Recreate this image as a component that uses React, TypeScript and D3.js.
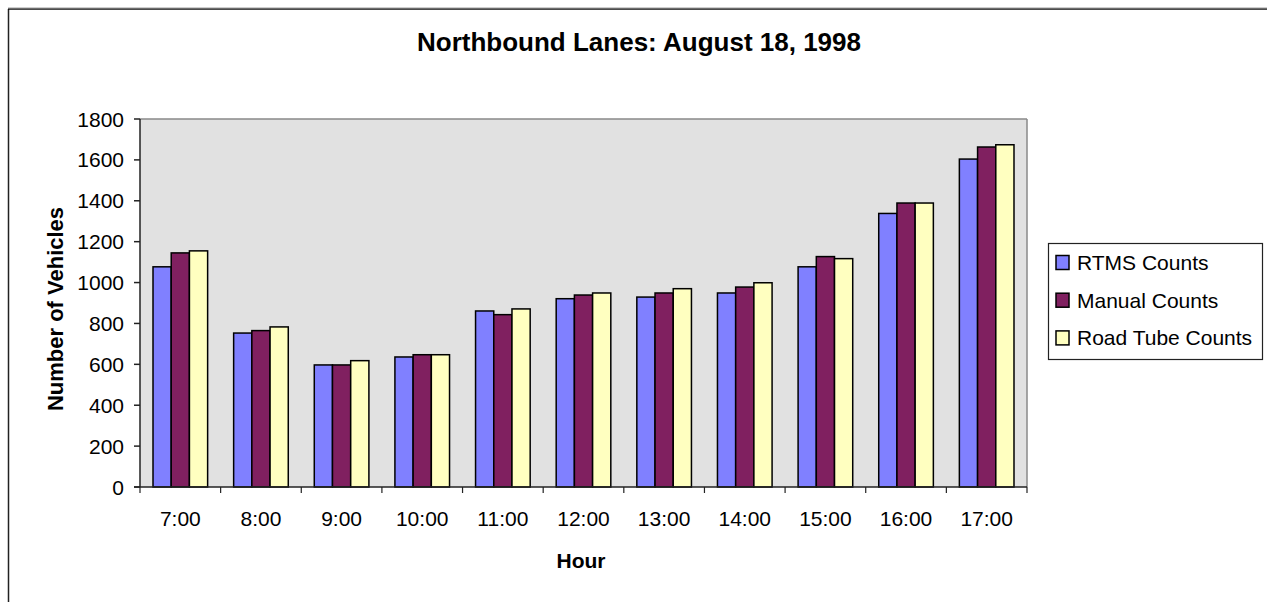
import React from "react";
import * as d3 from "d3";

const hours = ["7:00", "8:00", "9:00", "10:00", "11:00", "12:00", "13:00", "14:00", "15:00", "16:00", "17:00"];
const seriesNames = ["RTMS Counts", "Manual Counts", "Road Tube Counts"];
const rtmsCounts = [1077, 753, 597, 636, 861, 921, 929, 949, 1077, 1338, 1604];
const manualCounts = [1145, 765, 597, 647, 843, 939, 949, 978, 1127, 1389, 1663];
const roadTubeCounts = [1155, 783, 618, 647, 871, 949, 970, 999, 1117, 1389, 1674];
const yTicks = [0, 200, 400, 600, 800, 1000, 1200, 1400, 1600, 1800];
const colors = ["#8080ff", "#802060", "#ffffc0"];

const W = 1267;
const H = 602;
const FONT = "'Liberation Sans', Arial, Helvetica, sans-serif";

export default function App() {
  const plot = { left: 140, right: 1027, top: 119, bottom: 487 };
  const series = [rtmsCounts, manualCounts, roadTubeCounts];

  const x = d3
    .scaleBand<string>()
    .domain(hours)
    .range([plot.left, plot.right])
    .paddingInner(0.3226)
    .paddingOuter(0.1613);
  const xs = d3
    .scaleBand<string>()
    .domain(seriesNames)
    .range([0, x.bandwidth()])
    .padding(0);
  const y = d3.scaleLinear().domain([0, 1800]).range([plot.bottom, plot.top]);
  const step = (plot.right - plot.left) / hours.length;

  return (
    <svg
      width={W}
      height={H}
      style={{ position: "absolute", left: 0, top: 0, display: "block", background: "#fff" }}
      fontFamily={FONT}
    >
      {/* outer chart frame */}
      <line x1={8.5} y1={9} x2={8.5} y2={H + 5} stroke="#222" strokeWidth={1.5} />
      <line x1={8} y1={9} x2={W + 5} y2={9} stroke="#111" strokeWidth={1.5} />
      <line x1={8} y1={7.8} x2={W + 5} y2={7.8} stroke="#bbb" strokeWidth={1} />

      {/* title */}
      <text x={639} y={51} textAnchor="middle" fontSize={26} fontWeight="bold" fill="#000">
        Northbound Lanes: August 18, 1998
      </text>

      {/* plot area */}
      <rect
        x={plot.left}
        y={plot.top}
        width={plot.right - plot.left}
        height={plot.bottom - plot.top}
        fill="#e1e1e1"
      />
      <line x1={plot.left} y1={plot.top} x2={plot.right} y2={plot.top} stroke="#888" strokeWidth={1.5} />
      <line x1={plot.right} y1={plot.top} x2={plot.right} y2={plot.bottom} stroke="#888" strokeWidth={1.5} />

      {/* bars */}
      {series.map((vals, si) =>
        vals.map((v, i) => {
          const bx = (x(hours[i]) as number) + (xs(seriesNames[si]) as number);
          return (
            <rect
              key={`b${si}-${i}`}
              x={bx}
              y={y(v)}
              width={xs.bandwidth()}
              height={y(0) - y(v)}
              fill={colors[si]}
              stroke="#000"
              strokeWidth={1.5}
            />
          );
        })
      )}

      {/* y axis */}
      <line x1={plot.left} y1={plot.top} x2={plot.left} y2={plot.bottom} stroke="#222" strokeWidth={1.5} />
      {yTicks.map((t) => (
        <g key={`yt${t}`}>
          <line x1={plot.left - 6} x2={plot.left} y1={y(t)} y2={y(t)} stroke="#222" strokeWidth={1.5} />
          <text x={124} y={y(t)} dy="0.36em" textAnchor="end" fontSize={21} fill="#000">
            {t}
          </text>
        </g>
      ))}

      {/* x axis */}
      <line x1={plot.left - 6} y1={plot.bottom} x2={plot.right} y2={plot.bottom} stroke="#222" strokeWidth={1.5} />
      {d3.range(hours.length + 1).map((i) => (
        <line
          key={`xt${i}`}
          x1={plot.left + i * step}
          x2={plot.left + i * step}
          y1={plot.bottom}
          y2={plot.bottom + 6}
          stroke="#222"
          strokeWidth={1.2}
        />
      ))}
      {hours.map((h) => (
        <text
          key={`xl${h}`}
          x={(x(h) as number) + x.bandwidth() / 2}
          y={526}
          textAnchor="middle"
          fontSize={21}
          fill="#000"
        >
          {h}
        </text>
      ))}

      {/* axis titles */}
      <text x={581} y={568} textAnchor="middle" fontSize={21} fontWeight="bold" fill="#000">
        Hour
      </text>
      <text
        transform={`translate(63, 309) rotate(-90)`}
        textAnchor="middle"
        fontSize={22}
        fontWeight="bold"
        fill="#000"
      >
        Number of Vehicles
      </text>

      {/* legend */}
      <rect x={1048.5} y={243.5} width={214} height={116} fill="#fff" stroke="#222" strokeWidth={1.2} />
      {seriesNames.map((name, i) => {
        const cy = 262.5 + i * 37.7;
        return (
          <g key={`lg${i}`}>
            <rect x={1056} y={cy - 7} width={13} height={14} fill={colors[i]} stroke="#000" strokeWidth={1.5} />
            <text x={1077} y={cy} dy="0.36em" fontSize={21} fill="#000">
              {name}
            </text>
          </g>
        );
      })}
    </svg>
  );
}
